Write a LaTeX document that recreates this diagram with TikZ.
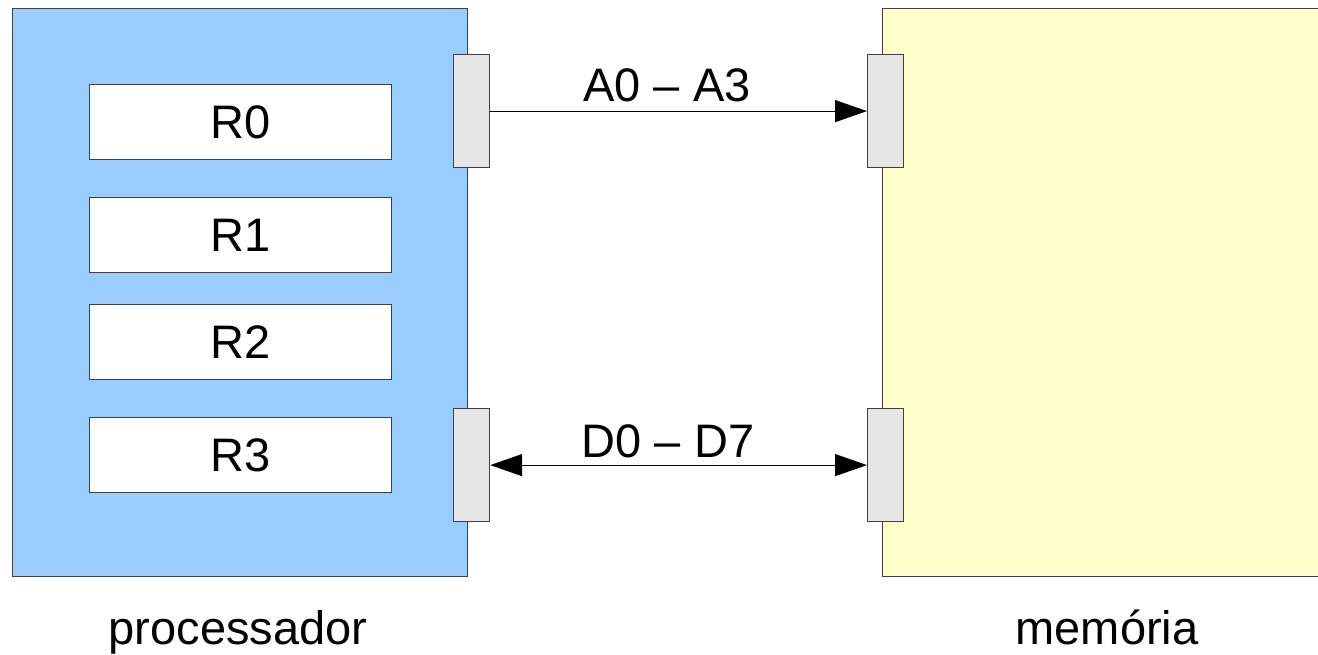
\documentclass[tikz,border=0pt]{standalone}
\usepackage{fontspec}
\setmainfont{Liberation Sans}
\usetikzlibrary{arrows.meta}
\definecolor{procblue}{HTML}{99CCFF}
\definecolor{memyellow}{HTML}{FFFFCC}
\definecolor{portgray}{HTML}{E6E6E6}
\begin{document}
\begin{tikzpicture}[x=0.5pt,y=-0.5pt,
    unit/.style={draw=black!75,line width=0.6pt,anchor=north west,inner sep=0pt},
    reg/.style={unit,fill=white,minimum width=151pt,minimum height=37.5pt,font=\fontsize{23.5}{28}\selectfont},
    port/.style={unit,fill=portgray,minimum width=18pt,minimum height=56.5pt},
    lbl/.style={anchor=base,inner sep=0pt,font=\fontsize{23.5}{28}\selectfont},
    bus/.style={line width=0.6pt,-{Triangle[length=16pt,width=11pt]}}]
  \clip (0,0) rectangle (1318,654);
  \node[unit,fill=procblue,minimum width=227.5pt,minimum height=284pt] (proc) at (12,8) {};
  \node[unit,fill=memyellow,minimum width=229pt,minimum height=284pt] (mem) at (882,8) {};
  \node[reg] (r0) at (89,84) {R0};
  \node[reg] (r1) at (89,197) {R1};
  \node[reg] (r2) at (89,304) {R2};
  \node[reg] (r3) at (89,417) {R3};
  \node[port] (pa) at (453,54) {};
  \node[port] (pd) at (453,408) {};
  \node[port] (ma) at (867,54) {};
  \node[port] (md) at (867,408) {};
  \draw[bus] (pa.east) -- (ma.west);
  \draw[bus,{Triangle[length=16pt,width=11pt]}-{Triangle[length=16pt,width=11pt]}] (pd.east) -- (md.west);
  \node[lbl] (la) at (667,101) {A0 -- A3};
  \node[lbl] (ld) at (668,457) {D0 -- D7};
  \node[lbl] (lp) at (238,644) {processador};
  \node[lbl] (lm) at (1107,644) {memória};
\end{tikzpicture}
\end{document}
